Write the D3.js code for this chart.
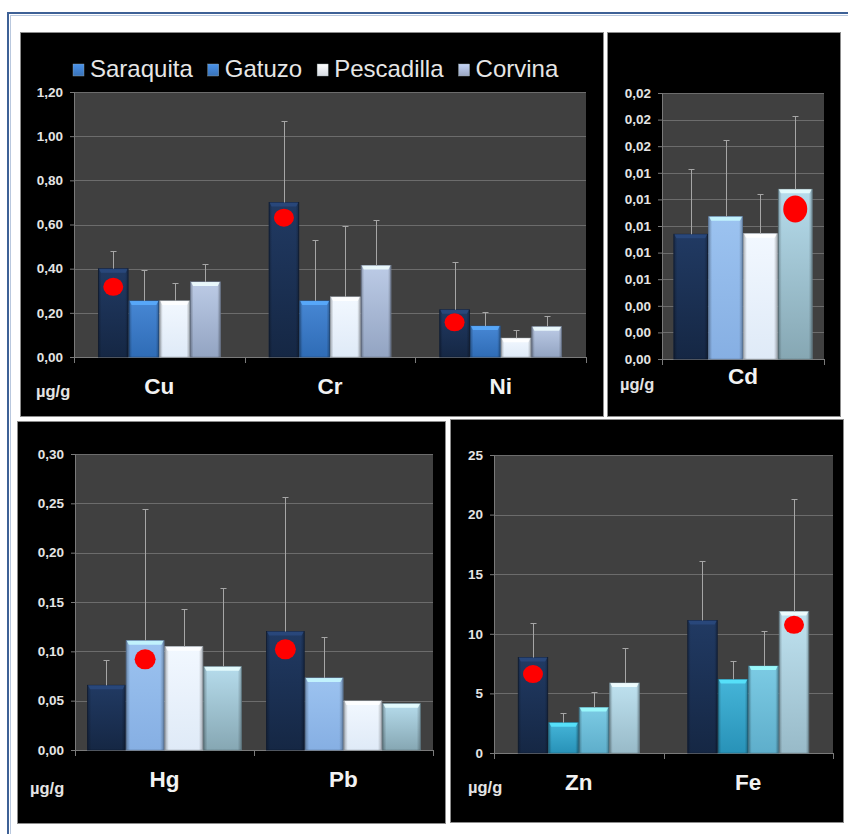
<!DOCTYPE html>
<html>
<head>
<meta charset="utf-8">
<script src="https://cdn.jsdelivr.net/npm/d3@7"></script>
<style>
  body { margin: 0; background: #ffffff; }
  svg { display: block; }
  text { font-family: "Liberation Sans", Arial, sans-serif; }
</style>
</head>
<body>
<svg id="chart" width="848" height="834"></svg>
<script>
// ---- data: mean concentration (µg/g) per metal and species, with upper SD ----
const species = ["Saraquita", "Gatuzo", "Pescadilla", "Corvina"];

const metalsA = ["Cu", "Cr", "Ni"];
const meanA = [[0.40, 0.254, 0.254, 0.34], [0.70, 0.254, 0.272, 0.414], [0.214, 0.14, 0.085, 0.137]];
const sdA   = [[0.08, 0.14, 0.08, 0.08], [0.37, 0.274, 0.32, 0.206], [0.216, 0.065, 0.037, 0.049]];
const markSpeciesA = [0, 0, 0];
const markValueA   = [0.318, 0.631, 0.157];
const ticksA = [0, 0.2, 0.4, 0.6, 0.8, 1.0, 1.2];

const metalsB = ["Cd"];
const meanB = [[0.00938, 0.0107, 0.00942, 0.01276]];
const sdB   = [[0.0049, 0.0058, 0.003, 0.0055]];
const markSpeciesB = [3];
const markValueB   = [0.01128];
const ticksB = [0, 0.002, 0.004, 0.006, 0.008, 0.010, 0.012, 0.014, 0.016, 0.018, 0.020];

const metalsC = ["Hg", "Pb"];
const meanC = [[0.0656, 0.1108, 0.1047, 0.0845], [0.12, 0.073, 0.0497, 0.047]];
const sdC   = [[0.0256, 0.1338, 0.0379, 0.08], [0.1364, 0.0412, 0, 0]];
const markSpeciesC = [1, 0];
const markValueC   = [0.0919, 0.102];
const ticksC = [0, 0.05, 0.10, 0.15, 0.20, 0.25, 0.30];

const metalsD = ["Zn", "Fe"];
const meanD = [[8.01, 2.54, 3.82, 5.87], [11.12, 6.17, 7.29, 11.87]];
const sdD   = [[2.91, 0.78, 1.26, 2.9], [4.97, 1.51, 2.94, 9.47]];
const markSpeciesD = [0, 3];
const markValueD   = [6.62, 10.75];
const ticksD = [0, 5, 10, 15, 20, 25];

// ---- formatting ----
const loc = d3.formatLocale({ decimal: ",", thousands: ".", grouping: [3], currency: ["", ""] });
const fmt2 = loc.format(".2f");
const fmt0 = loc.format("d");

// ---- palettes: [top colour, bottom colour] per species ----
const paletteA = [["#213a63", "#152744"], ["#4787d4", "#2f6cb6"], ["#f2f8ff", "#dfeaf7"], ["#bccbe6", "#93a4c2"]];
const paletteB = [["#213a63", "#152744"], ["#9cc3f0", "#86afe3"], ["#f2f8ff", "#dfeaf7"], ["#b6dcec", "#86a7b3"]];
const paletteD = [["#213a63", "#152744"], ["#45b5d8", "#2892b8"], ["#7ccbe4", "#5eaecb"], ["#bfe2f0", "#98bac8"]];

const svg = d3.select("#chart");
const defs = svg.append("defs");

// outer frame
svg.append("rect").attr("x", 8).attr("y", 13).attr("width", 860).attr("height", 840)
  .attr("fill", "none").attr("stroke", "#3e6196").attr("stroke-width", 2);
svg.append("rect").attr("x", 10.5).attr("y", 15.5).attr("width", 860).attr("height", 840)
  .attr("fill", "none").attr("stroke", "#b9c8de").attr("stroke-width", 1);

// edge shading shared by all bars
const edge = defs.append("linearGradient").attr("id", "edgeShade").attr("x1", 0).attr("x2", 1).attr("y1", 0).attr("y2", 0);
edge.append("stop").attr("offset", "0%").attr("stop-color", "#000").attr("stop-opacity", 0.28);
edge.append("stop").attr("offset", "10%").attr("stop-color", "#000").attr("stop-opacity", 0);
edge.append("stop").attr("offset", "90%").attr("stop-color", "#000").attr("stop-opacity", 0);
edge.append("stop").attr("offset", "100%").attr("stop-color", "#000").attr("stop-opacity", 0.28);

let gradId = 0;
function fillFor(pair) {
  const id = "g" + (gradId++);
  const g = defs.append("linearGradient").attr("id", id).attr("x1", 0).attr("x2", 0).attr("y1", 0).attr("y2", 1);
  g.append("stop").attr("offset", "0%").attr("stop-color", pair[0]);
  g.append("stop").attr("offset", "100%").attr("stop-color", pair[1]);
  return "url(#" + id + ")";
}

function drawPanel(cfg) {
  const [bx0, by0, bx1, by1] = cfg.box;
  const [px0, py0, px1, py1] = cfg.plot;
  const g = svg.append("g");

  g.append("rect").attr("x", bx0 + 0.5).attr("y", by0 + 0.5)
    .attr("width", bx1 - bx0).attr("height", by1 - by0)
    .attr("fill", "#000").attr("stroke", "#8c8c8c").attr("stroke-width", 1);

  const y = d3.scaleLinear().domain([0, cfg.ticks[cfg.ticks.length - 1]]).range([py1, py0]);
  const x = d3.scaleBand().domain(cfg.cats).range([px0, px1]).padding(0);
  const bw = x.bandwidth();
  const inner = d3.scaleBand().domain(species)
    .range([bw * (1 - cfg.groupFrac) / 2, bw * (1 + cfg.groupFrac) / 2]).padding(0);

  // plot area
  g.append("rect").attr("x", px0).attr("y", py0).attr("width", px1 - px0).attr("height", py1 - py0)
    .attr("fill", "#404040");

  // gridlines
  g.append("g").selectAll("line").data(cfg.ticks.slice(1)).join("line")
    .attr("x1", px0).attr("x2", px1)
    .attr("y1", d => Math.round(y(d)) + 0.5).attr("y2", d => Math.round(y(d)) + 0.5)
    .attr("stroke", "#6c6c6c").attr("stroke-width", 1);

  // y axis
  const yAxis = d3.axisLeft(y).tickValues(cfg.ticks).tickFormat(cfg.fmt).tickSize(4).tickPadding(7);
  const ya = g.append("g").attr("transform", `translate(${px0},0)`).call(yAxis);
  ya.select(".domain").attr("stroke", "#7a7a7a");
  ya.selectAll(".tick line").attr("stroke", "#7a7a7a");
  ya.selectAll(".tick text").attr("fill", "#e4e4e4").attr("font-size", "13.5px").attr("font-weight", "bold")
    .attr("font-family", "'Liberation Sans', Arial, sans-serif");

  // x axis with ticks between categories
  const xa = g.append("g").attr("transform", `translate(0,${py1})`);
  xa.append("line").attr("x1", px0).attr("x2", px1).attr("y1", 0.5).attr("y2", 0.5).attr("stroke", "#7a7a7a");
  const bounds = cfg.cats.map(c => x(c)).concat([px1]);
  xa.selectAll("line.t").data(bounds).join("line").attr("class", "t")
    .attr("x1", d => Math.round(d) + 0.5).attr("x2", d => Math.round(d) + 0.5)
    .attr("y1", 0).attr("y2", 6).attr("stroke", "#7a7a7a");

  // category labels
  g.selectAll("text.cat").data(cfg.cats).join("text").attr("class", "cat")
    .attr("x", d => x(d) + bw / 2).attr("y", py1 + cfg.labelDy)
    .attr("text-anchor", "middle").attr("fill", "#f2f2f2")
    .attr("font-size", "22.5px").attr("font-weight", "bold").text(d => d);

  g.append("text").attr("x", cfg.unitX).attr("y", cfg.unitY)
    .attr("fill", "#e4e4e4").attr("font-size", "16.5px").attr("font-weight", "bold").text("µg/g");

  // bars
  const fills = cfg.palette.map(fillFor);
  const rows = [];
  cfg.cats.forEach((c, i) => species.forEach((s, j) => {
    rows.push({ c, s, j, v: cfg.mean[i][j], sd: cfg.sd[i][j] });
  }));
  const bars = g.append("g");
  rows.forEach(r => {
    const bx = x(r.c) + inner(r.s);
    const by = y(r.v);
    const h = y(0) - by;
    const w = inner.bandwidth();
    bars.append("rect").attr("x", bx + 0.5).attr("y", by).attr("width", w - 1).attr("height", h)
      .attr("fill", fills[r.j]).attr("stroke", d3.color(cfg.palette[r.j][1]).darker(0.6)).attr("stroke-width", 0.8);
    bars.append("rect").attr("x", bx + 0.5).attr("y", by).attr("width", w - 1).attr("height", h)
      .attr("fill", "url(#edgeShade)");
    // bevelled top edge
    const lt = d3.color(cfg.palette[r.j][0]).brighter(0.7);
    bars.append("path")
      .attr("d", `M${bx + 1},${by} L${bx + w - 1},${by} L${bx + w - 3},${by + 4} L${bx + 3},${by + 4} Z`)
      .attr("fill", lt).attr("opacity", 0.85);
  });

  // error bars (upper SD)
  const eb = g.append("g").attr("stroke", "#a6a6a6").attr("stroke-width", 1);
  rows.filter(r => r.sd > 0).forEach(r => {
    const cx = Math.round(x(r.c) + inner(r.s) + inner.bandwidth() / 2) + 0.5;
    const yt = Math.round(y(r.v + r.sd)) + 0.5;
    eb.append("line").attr("x1", cx).attr("x2", cx).attr("y1", y(r.v)).attr("y2", yt);
    eb.append("line").attr("x1", cx - 3).attr("x2", cx + 3).attr("y1", yt).attr("y2", yt);
  });

  // red reference markers
  cfg.cats.forEach((c, i) => {
    const s = species[cfg.markSpecies[i]];
    g.append("ellipse")
      .attr("cx", x(c) + inner(s) + inner.bandwidth() / 2)
      .attr("cy", y(cfg.markValue[i]))
      .attr("rx", cfg.dot[0]).attr("ry", cfg.dot[1])
      .attr("fill", "#ff0000");
  });

  return { x, y };
}

drawPanel({
  box: [20, 32, 603, 416], plot: [74, 92, 586, 357],
  cats: metalsA, mean: meanA, sd: sdA, markSpecies: markSpeciesA, markValue: markValueA,
  ticks: ticksA, fmt: fmt2, palette: paletteA, groupFrac: 0.72, labelDy: 37,
  unitX: 36, unitY: 397, dot: [10, 9]
});
drawPanel({
  box: [607, 32, 840, 416], plot: [662, 93, 824, 359],
  cats: metalsB, mean: meanB, sd: sdB, markSpecies: markSpeciesB, markValue: markValueB,
  ticks: ticksB, fmt: fmt2, palette: paletteB, groupFrac: 0.86, labelDy: 25,
  unitX: 620, unitY: 390, dot: [12, 13.5]
});
drawPanel({
  box: [17, 421, 445, 823], plot: [75, 454, 433, 750],
  cats: metalsC, mean: meanC, sd: sdC, markSpecies: markSpeciesC, markValue: markValueC,
  ticks: ticksC, fmt: fmt2, palette: paletteB, groupFrac: 0.866, labelDy: 37,
  unitX: 30, unitY: 794, dot: [10.5, 10]
});
drawPanel({
  box: [450, 419, 843, 822], plot: [494, 455, 833, 753],
  cats: metalsD, mean: meanD, sd: sdD, markSpecies: markSpeciesD, markValue: markValueD,
  ticks: ticksD, fmt: fmt0, palette: paletteD, groupFrac: 0.72, labelDy: 37,
  unitX: 468, unitY: 793, dot: [10, 9]
});

// legend for the first panel
const legendColors = ["#3f7fcc", "#3f7fcc", "#eef4fc", "#aab8d6"];
const lg = svg.append("g");
let lx = 73;
species.forEach((s, j) => {
  const grad = fillFor([d3.color(legendColors[j]).brighter(0.4).formatHex(), d3.color(legendColors[j]).darker(0.3).formatHex()]);
  lg.append("rect").attr("x", lx).attr("y", 64).attr("width", 11).attr("height", 12)
    .attr("fill", grad).attr("stroke", "#99aaaa").attr("stroke-width", 0.4);
  const t = lg.append("text").attr("x", lx + 17).attr("y", 77)
    .attr("fill", "#e6e6e6").attr("font-size", "24px").text(s);
  lx = lx + 17 + t.node().getComputedTextLength() + 15;
});
</script>
</body>
</html>
